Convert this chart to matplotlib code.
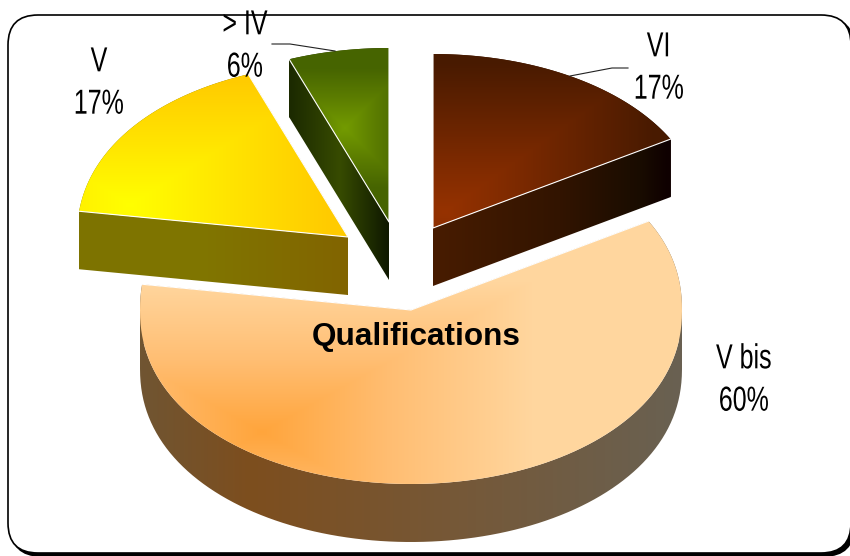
import matplotlib
matplotlib.use("Agg")
import matplotlib.pyplot as plt
from matplotlib.patches import FancyBboxPatch, PathPatch, Rectangle
from matplotlib.patheffects import AbstractPathEffect
from matplotlib.path import Path
from matplotlib.transforms import Affine2D
import numpy as np

# slices run clockwise from 12 o'clock
labels = ["VI", "V bis", "V", "> IV"]
values = [17, 60, 17, 6]
title = "Qualifications"

W, H = 850, 556
centers = [(433, 228), (411, 310), (348, 237), (389, 222)]
label_pos = [(659, 68), (744, 380), (99, 83), (245, 46)]
RX, RY, DEPTH = 271, 174, 58

# focus point, vertical weight and (distance, colour) stops of each top face
top_grad = [
    ((445, 212), 1.4, [(0, (150, 50, 0)), (70, (125, 42, 0)), (210, (72, 26, 0))]),
    ((262, 432), 1.8, [(0, (255, 165, 60)), (130, (255, 190, 115)), (270, (255, 214, 158))]),
    ((130, 205), 1.6, [(0, (255, 255, 0)), (100, (255, 228, 0)), (200, (255, 203, 0))]),
    ((345, 128), 1.0, [(0, (115, 155, 0)), (30, (92, 125, 0)), (60, (70, 100, 0))]),
]
# (x, colour) stops of each side wall
wall_grad = [
    [(433, (72, 28, 0)), (560, (50, 20, 0)), (640, (25, 12, 0)), (668, (15, 0, 0))],
    [(142, (112, 85, 50)), (250, (125, 78, 30)), (450, (118, 88, 55)), (682, (105, 97, 82))],
    [(80, (125, 115, 0)), (200, (128, 118, 0)), (348, (130, 100, 0))],
    [(291, (28, 42, 0)), (340, (55, 75, 0)), (388, (15, 25, 0))],
]


class _Narrow(AbstractPathEffect):
    # the labels in the reference are squeezed sideways
    def __init__(self, sx):
        super().__init__()
        self.sx = sx

    def draw_path(self, renderer, gc, tpath, affine, rgbFace=None):
        w = tpath.get_extents().x1 * affine.get_matrix()[0, 0]
        new = Affine2D().scale(self.sx, 1) + affine + Affine2D().translate((1 - self.sx) * w / 2, 0)
        renderer.draw_path(gc, tpath, new, rgbFace)


fig = plt.figure(figsize=(W / 100, H / 100), dpi=100)
ax = fig.add_axes([0, 0, 1, 1])

X, Y = np.meshgrid(np.arange(W) + 0.5, np.arange(H) + 0.5)


def _fill(path, dist, stops):
    pos = [s[0] for s in stops]
    img = np.dstack([np.interp(dist, pos, [s[1][i] / 255 for s in stops]) for i in range(3)])
    im = ax.imshow(img, extent=(0, W, H, 0), aspect="auto", interpolation="nearest", zorder=2)
    im.set_clip_path(PathPatch(path, transform=ax.transData))


def _wall_path(pts):
    # sweep every outline edge of the top face downwards
    verts = []
    codes = []
    for p, q in zip(pts[:-1], pts[1:]):
        quad = [p, q, (q[0], q[1] + DEPTH), (p[0], p[1] + DEPTH)]
        area = 0
        for k in range(4):
            area += quad[k][0] * quad[(k + 1) % 4][1] - quad[(k + 1) % 4][0] * quad[k][1]
        if area < 0:
            quad = quad[::-1]
        verts += quad + [quad[0]]
        codes += [Path.MOVETO, Path.LINETO, Path.LINETO, Path.LINETO, Path.CLOSEPOLY]
    return Path(verts, codes)


# frame with its shadow
for off, face in [(3, "black"), (0, "white")]:
    ax.add_patch(FancyBboxPatch((38 + off, 45 + off), 783, 478, boxstyle="round,pad=30,rounding_size=30",
                                fc=face, ec="black", lw=1.2, zorder=1))

start = 0
for i, v in enumerate(values):
    a0 = start / sum(values) * 2 * np.pi
    a1 = (start + v) / sum(values) * 2 * np.pi
    start += v
    cx, cy = centers[i]
    t = np.linspace(a0, a1, 120)
    # rim is slightly fuller than a true ellipse
    rim_y = np.sign(np.cos(t)) * np.abs(np.cos(t)) ** 0.92
    pts = [(cx, cy)] + list(zip(cx + RX * np.sin(t), cy - RY * rim_y)) + [(cx, cy)]

    _fill(_wall_path(pts), X, wall_grad[i])

    (fx, fy), k, stops = top_grad[i]
    _fill(Path(pts), np.maximum(np.abs(X - fx), np.abs(Y - fy) * k), stops)
    # thin white highlight on the two cut edges only
    px, py = zip(pts[1], pts[0], pts[-2])
    ax.plot(px, py, color="white", lw=0.8, zorder=3)

    txt = ax.text(label_pos[i][0], label_pos[i][1], labels[i] + "\n" + str(v) + "%", ha="center", va="center",
                  fontsize=25, linespacing=1.36, color="black", family="Liberation Sans", zorder=5,
                  path_effects=[_Narrow(0.72)])
    # the top of the uppermost label is cut off in the reference
    txt.set_clip_path(Rectangle((0, 10), W, H, transform=ax.transData))

# leader lines
ax.plot([570, 612, 628], [76, 68, 68], color="#222222", lw=0.8, zorder=4)
ax.plot([272, 290, 335], [44, 44, 51], color="#222222", lw=0.8, zorder=4)

ax.text(416, 337, title, ha="center", va="center", fontsize=22.7, fontweight="bold",
        family="Liberation Sans", color="black", zorder=5)

ax.set_xlim(0, W)
ax.set_ylim(H, 0)
ax.axis("off")
fig.savefig("out.png", dpi=100)
plt.close()
